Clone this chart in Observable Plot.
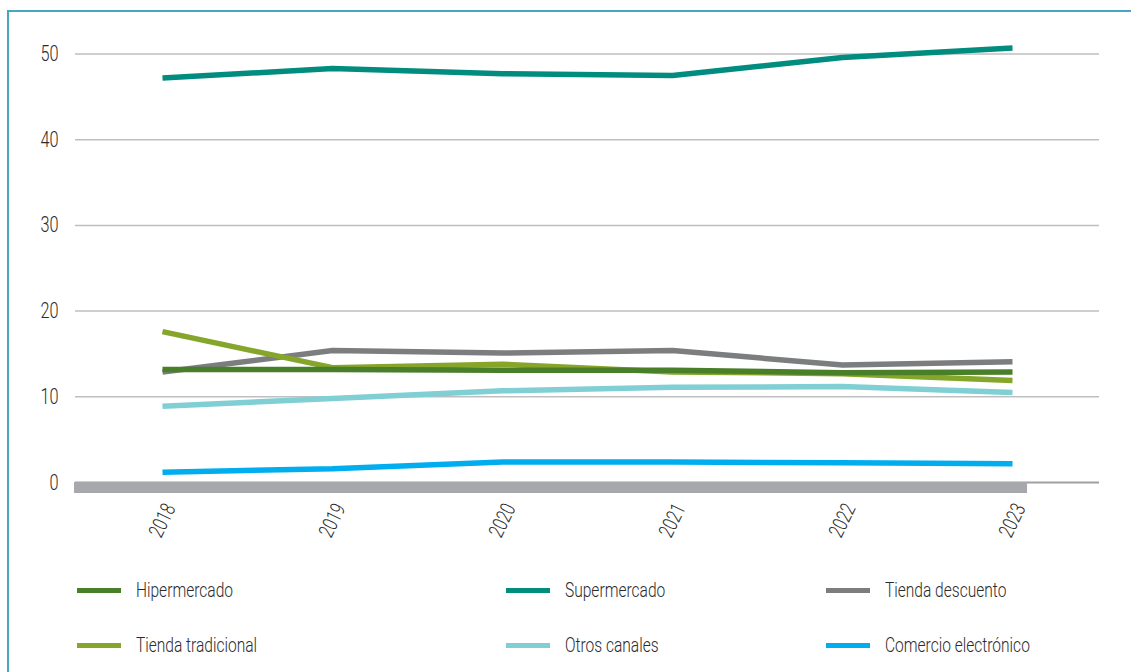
<!DOCTYPE html>
<html>
<head>
<meta charset="utf-8">
<script src="https://cdn.jsdelivr.net/npm/d3@7"></script>
<script src="https://cdn.jsdelivr.net/npm/@observablehq/plot@0.6"></script>
<style>
  html, body { margin: 0; padding: 0; background: #fff; }
  body { width: 1131px; height: 672px; position: relative; overflow: hidden;
         font-family: 'Roboto', 'Noto Sans', sans-serif; color: #333; }
  #frame { position: absolute; left: 7px; top: 10px; width: 1200px; height: 700px;
           border-top: 2px solid #45a7c0; border-left: 2px solid #45a7c0; pointer-events: none; }
  #chart { position: absolute; left: 0; top: 0; }
  #chart text { font-weight: 300; }
  .leg { position: absolute; display: flex; align-items: center; font-size: 21px; font-weight: 300; color: #2b2b2b; white-space: nowrap; }
  .leg .sw { width: 44px; height: 5px; margin-right: 15px; flex: none; }
  .leg .tx { display: inline-block; transform: scaleX(0.74); transform-origin: left center; }
</style>
</head>
<body>
<div id="chart"></div>
<div id="legend"></div>
<div id="frame"></div>
<script>
const years = ["2018", "2019", "2020", "2021", "2022", "2023"];
const seriesNames = ["Hipermercado", "Supermercado", "Tienda descuento", "Tienda tradicional", "Otros canales", "Comercio electrónico"];
const seriesColors = ["#4a7f2a", "#008c7e", "#7b7d7f", "#86a62b", "#80cfd4", "#00aeef"];
const hipermercado = [13.2, 13.2, 13.1, 13.1, 12.8, 12.9];
const supermercado = [47.2, 48.3, 47.7, 47.5, 49.6, 50.7];
const tiendaDescuento = [12.9, 15.4, 15.1, 15.4, 13.7, 14.1];
const tiendaTradicional = [17.6, 13.4, 13.8, 12.9, 12.7, 11.9];
const otrosCanales = [8.9, 9.8, 10.7, 11.1, 11.2, 10.5];
const comercioElectronico = [1.2, 1.6, 2.4, 2.4, 2.3, 2.2];
const yTicks = [0, 10, 20, 30, 40, 50];

const seriesValues = [hipermercado, supermercado, tiendaDescuento, tiendaTradicional, otrosCanales, comercioElectronico];
const drawOrder = [1, 2, 3, 4, 5, 0];
const rows = [];
drawOrder.forEach(i => years.forEach((yr, j) => rows.push({serie: seriesNames[i], year: yr, value: seriesValues[i][j]})));

const chart = Plot.plot({
  width: 1131,
  height: 560,
  marginLeft: 75,
  marginRight: 32,
  marginTop: 53.5,
  marginBottom: 78,
  style: {fontFamily: "'Roboto', 'Noto Sans', sans-serif", fontSize: "21px", color: "#2b2b2b", background: "transparent"},
  x: {type: "point", domain: years, padding: 0.5, axis: null},
  y: {domain: [0, 50], ticks: yTicks, axis: null},
  color: {domain: seriesNames, range: seriesColors},
  marks: [
    Plot.ruleY(yTicks.filter(d => d > 0), {stroke: "#bfbfbf", strokeWidth: 1.5}),
    Plot.ruleY([0], {stroke: "#a0a0a0", strokeWidth: 1.8}),
    Plot.ruleY([0], {stroke: "#a7a8ab", strokeWidth: 11, dy: 5, insetLeft: -1, insetRight: 72}),
    Plot.axisY({ticks: yTicks, tickSize: 0, tickPadding: 17, fontSize: 22, fill: "#2b2b2b", label: null}),
    Plot.text(years, {x: d => d, frameAnchor: "bottom", dy: 38, rotate: -64, text: d => d, textAnchor: "middle", lineAnchor: "middle", fontSize: 21, fill: "#2b2b2b"}),
    Plot.line(rows, {x: "year", y: "value", z: "serie", stroke: "serie", strokeWidth: 5.5, strokeLinejoin: "miter", strokeLinecap: "butt"})
  ]
});
// condense the sans-serif glyphs horizontally (around each text's anchor) to mimic the narrow typeface
chart.querySelectorAll("text").forEach(t => {
  const xa = t.getAttribute("x");
  const x = xa !== null && /^-?[\d.]+$/.test(xa) ? +xa : 0;
  const tr = t.getAttribute("transform") || "";
  t.setAttribute("transform", `${tr} translate(${x},0) scale(0.74,1) translate(${-x},0)`);
});
document.getElementById("chart").appendChild(chart);

const legendPos = [[77, 590], [506, 590], [826, 590], [77, 645], [506, 645], [826, 645]];
const legend = document.getElementById("legend");
seriesNames.forEach((name, i) => {
  const el = document.createElement("div");
  el.className = "leg";
  el.style.left = legendPos[i][0] + "px";
  el.style.top = (legendPos[i][1] - 14) + "px";
  el.style.height = "28px";
  const sw = document.createElement("span");
  sw.className = "sw";
  sw.style.background = seriesColors[i];
  const tx = document.createElement("span");
  tx.className = "tx";
  tx.textContent = name;
  el.appendChild(sw);
  el.appendChild(tx);
  legend.appendChild(el);
});
</script>
</body>
</html>
